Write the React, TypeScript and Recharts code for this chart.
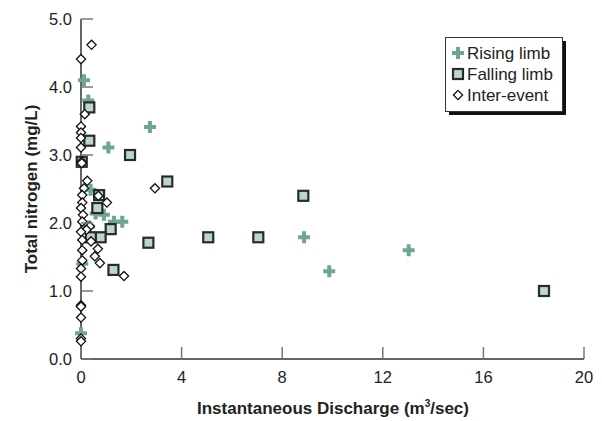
import React from 'react';
import { ScatterChart, Scatter, XAxis, YAxis, Legend, Label } from 'recharts';

// Rising limb samples
const risingX = [0.12, 0.29, 2.74, 1.09, 0.38, 0.58, 0.91, 1.31, 1.64, 0.32, 0.05, 8.87, 9.87, 13.03, 0.0];
const risingY = [4.1, 3.8, 3.41, 3.11, 2.49, 2.14, 2.12, 2.02, 2.02, 1.95, 1.4, 1.79, 1.29, 1.6, 0.38];

// Falling limb samples
const fallingX = [0.33, 0.33, 1.95, 0.03, 3.43, 8.84, 5.06, 7.05, 18.41, 2.68, 1.29, 0.72, 0.65, 1.18, 0.78, 0.39];
const fallingY = [3.7, 3.21, 3.0, 2.9, 2.61, 2.4, 1.79, 1.79, 1.0, 1.71, 1.31, 2.41, 2.22, 1.91, 1.79, 1.79];

// Inter-event samples
const interX = [0.42, 0.0, 0.15, 0.0, 0.0, 0.0, 0.0, 0.03, 0.03, 0.25, 0.12, 0.05, 0.69, 0.05, 1.03, 0.0, 0.08, 0.05,
  0.35, 0.22, 0.0, 0.05, 0.4, 0.05, 0.67, 0.55, 0.05, 0.75, 0.0, 0.0, 1.71, 2.94, 0.0, 0.0, 0.0, 0.0, 0.0];
const interY = [4.62, 4.41, 3.6, 3.42, 3.33, 3.25, 3.11, 2.9, 2.88, 2.62, 2.51, 2.41, 2.4, 2.3, 2.3, 2.22, 2.12, 2.02,
  1.95, 1.9, 1.87, 1.75, 1.73, 1.6, 1.62, 1.51, 1.45, 1.41, 1.33, 1.21, 1.22, 2.51, 0.79, 0.77, 0.61, 0.3, 0.26];

const xTicks = [0, 4, 8, 12, 16, 20];
const yTicks = [0, 1, 2, 3, 4, 5];
const seriesNames = ['Rising limb', 'Falling limb', 'Inter-event'];

const zip = (xs: number[], ys: number[]) => xs.map((x, i) => ({ x, y: ys[i] }));

const FONT = "'Liberation Sans', Arial, Helvetica, sans-serif";
const TEAL = '#6da696';
const SQ_FILL = '#bcd6cf';
const TICK_LEN = 12;

const Plus = ({ cx, cy }: any) => (
  <path d={`M${cx - 2},${cy - 6}h4v4h4v4h-4v4h-4v-4h-4v-4h4z`} fill={TEAL} />
);
const Square = ({ cx, cy }: any) => (
  <rect x={cx - 5} y={cy - 5} width={10} height={10} fill={SQ_FILL} stroke="#2a2a2a" strokeWidth={2.2} />
);
const Diamond = ({ cx, cy }: any) => (
  <polygon points={`${cx},${cy - 4.6} ${cx + 4.6},${cy} ${cx},${cy + 4.6} ${cx - 4.6},${cy}`} fill="#fff" stroke="#111" strokeWidth={1.3} />
);

const BottomTick = ({ x, y, payload }: any) => (
  <g>
    <line x1={x} x2={x} y1={y} y2={y - TICK_LEN} stroke="#777" strokeWidth={1.5} />
    <text x={x} y={y + 24} textAnchor="middle" fontSize={16.5} fontFamily={FONT} fill="#222">{payload.value}</text>
  </g>
);
const TopTick = ({ x, y }: any) => (
  <line x1={x} x2={x} y1={y} y2={y + TICK_LEN} stroke="#777" strokeWidth={1.5} />
);
const LeftTick = ({ x, y, payload }: any) => (
  <g>
    <line x1={x} x2={x + TICK_LEN} y1={y} y2={y} stroke="#777" strokeWidth={1.5} />
    <text x={x - 9} y={y + 6} textAnchor="end" fontSize={16.5} fontFamily={FONT} fill="#222">{payload.value.toFixed(1)}</text>
  </g>
);
const RightTick = ({ x, y }: any) => (
  <line x1={x} x2={x - TICK_LEN} y1={y} y2={y} stroke="#777" strokeWidth={1.5} />
);

const LegendBox = () => {
  const shapes = [Plus, Square, Diamond];
  return (
    <svg width={125} height={82} style={{ display: 'block' }}>
      <rect x={4} y={4} width={117} height={74} fill="#111" />
      <rect x={0.5} y={0.5} width={117} height={74} fill="#fff" stroke="#333" strokeWidth={1} />
      {seriesNames.map((name, i) => {
        const Shape = shapes[i];
        const cy = 16 + i * 21;
        return (
          <g key={name}>
            <Shape cx={13} cy={cy} />
            <text x={22} y={cy + 6} fontSize={17} fontFamily={FONT} fill="#222">{name}</text>
          </g>
        );
      })}
    </svg>
  );
};

const axisLine = { stroke: '#333', strokeWidth: 1.5 };

export default function App() {
  return (
    <div>
      <style>{'body{margin:0;background:#fff}'}</style>
      <ScatterChart width={602} height={421} margin={{ top: 19, right: 18, bottom: 0, left: 0 }}>
        <XAxis xAxisId="b" type="number" dataKey="x" domain={[0, 20]} ticks={xTicks} interval={0}
          height={62} axisLine={axisLine} tickLine={false} tickSize={0} tickMargin={0} tick={<BottomTick />}>
          <Label content={() => (
            <text x={333} y={414} textAnchor="middle" fontSize={17} fontWeight="bold" fontFamily={FONT} fill="#222">
              Instantaneous Discharge (m<tspan dy={-7} fontSize={10}>3</tspan><tspan dy={7}>/sec)</tspan>
            </text>
          )} />
        </XAxis>
        <XAxis xAxisId="t" type="number" orientation="top" domain={[0, 20]} ticks={xTicks} interval={0}
          height={0} axisLine={axisLine} tickLine={false} tickSize={0} tickMargin={0} tick={<TopTick />} />
        <YAxis yAxisId="l" type="number" dataKey="y" domain={[0, 5]} ticks={yTicks} interval={0}
          width={81} axisLine={axisLine} tickLine={false} tickSize={0} tickMargin={0} tick={<LeftTick />}>
          <Label content={() => (
            <text x={31} y={189} transform="rotate(-90, 31, 189)" textAnchor="middle" dominantBaseline="central"
              fontSize={17} fontWeight="bold" fontFamily={FONT} fill="#222">
              Total nitrogen (mg/L)
            </text>
          )} />
        </YAxis>
        <YAxis yAxisId="r" type="number" orientation="right" domain={[0, 5]} ticks={yTicks} interval={0}
          width={0} axisLine={axisLine} tickLine={false} tickSize={0} tickMargin={0} tick={<RightTick />} />
        <Legend layout="horizontal" verticalAlign="middle" align="center" content={<LegendBox />}
          wrapperStyle={{ position: 'absolute', left: 445, top: 37, width: 125, height: 82 }} />
        <Scatter name={seriesNames[0]} data={zip(risingX, risingY)} xAxisId="b" yAxisId="l"
          shape={(p: any) => <Plus cx={p.cx} cy={p.cy} />} isAnimationActive={false} />
        <Scatter name={seriesNames[1]} data={zip(fallingX, fallingY)} xAxisId="b" yAxisId="l"
          shape={(p: any) => <Square cx={p.cx} cy={p.cy} />} isAnimationActive={false} />
        <Scatter name={seriesNames[2]} data={zip(interX, interY)} xAxisId="b" yAxisId="l"
          shape={(p: any) => <Diamond cx={p.cx} cy={p.cy} />} isAnimationActive={false} />
      </ScatterChart>
    </div>
  );
}
